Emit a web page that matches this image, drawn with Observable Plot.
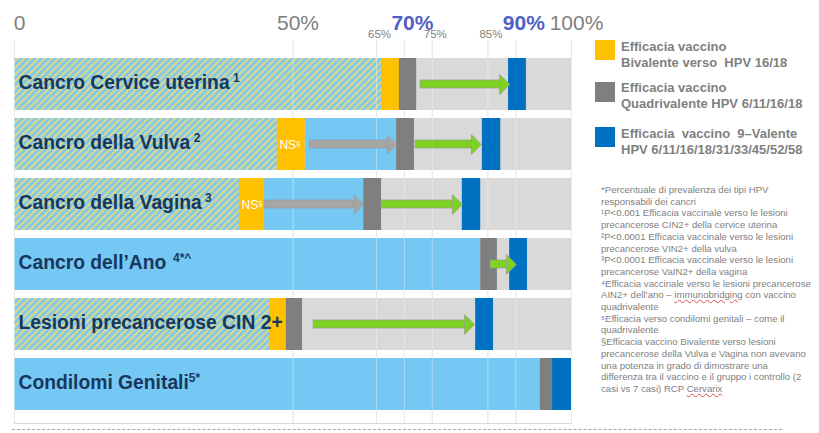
<!DOCTYPE html>
<html><head><meta charset="utf-8">
<script src="https://cdn.jsdelivr.net/npm/d3@7"></script>
<script src="https://cdn.jsdelivr.net/npm/@observablehq/plot@0.6"></script>
<style>
body{margin:0;background:#fff;font-family:"Liberation Sans",Arial,sans-serif;}
#wrap{position:relative;width:819px;height:433px;overflow:hidden;background:#fff;}
#chart{position:absolute;left:0;top:0;}
.sw{position:absolute;left:595px;width:20px;height:20px;}
.leg{position:absolute;left:621px;font-weight:bold;font-size:13px;color:#7f7f7f;line-height:15.5px;white-space:nowrap;}
#notes{position:absolute;left:601px;top:184px;font-size:9.6px;line-height:11.7px;color:#7f7f7f;letter-spacing:0px;white-space:nowrap;}
.sq{text-decoration:underline wavy #e05050;text-decoration-thickness:1px;}
#dash{position:absolute;left:12px;top:429px;width:770px;border-top:1px dashed #a6a6a6;}
</style></head>
<body><div id="wrap"><div id="chart"></div>
<div class="sw" style="top:40px;background:#ffc000"></div>
<div class="leg" style="top:39px">Efficacia vaccino<br>Bivalente verso&nbsp; HPV 16/18</div>
<div class="sw" style="top:82px;background:#7f7f7f"></div>
<div class="leg" style="top:80px">Efficacia vaccino<br>Quadrivalente HPV 6/11/16/18</div>
<div class="sw" style="top:127px;background:#0070c0"></div>
<div class="leg" style="top:126px">Efficacia&nbsp; vaccino&nbsp; 9–Valente<br>HPV 6/11/16/18/31/33/45/52/58</div>
<div id="notes">*Percentuale di prevalenza dei tipi HPV<br>responsabili dei cancri<br>¹P&lt;0.001 Efficacia vaccinale verso le lesioni<br>precancerose CIN2+ della cervice uterina<br>²P&lt;0.0001 Efficacia vaccinale verso le lesioni<br>precancerose VIN2+ della vulva<br>³P&lt;0.0001 Efficacia vaccinale verso le lesioni<br>precancerose VaIN2+ della vagina<br>⁴Efficacia vaccinale verso le lesioni precancerose<br>AIN2+ dell’ano – <span class="sq">immunobridging</span> con vaccino<br>quadrivalente<br>⁵Efficacia verso condilomi genitali – come il<br>quadrivalente<br>§Efficacia vaccino Bivalente verso lesioni<br>precancerose della Vulva e Vagina non avevano<br>una potenza in grado di dimostrare una<br>differenza tra il vaccino e il gruppo i controllo (2<br>casi vs 7 casi) RCP <span class="sq">Cervarix</span></div>
<div id="dash"></div>
</div>
<script>
const rows = ["Cancro Cervice uterina","Cancro della Vulva","Cancro della Vagina","Cancro dell’Ano","Lesioni precancerose CIN 2+","Condilomi Genitali"];
const rowSup = [" 1"," 2"," 3","  4*^","","5*"];
const hatched = [true,true,true,false,true,false];
const prevalence = [65.9,47.2,40.4,83.7,45.8,94.4];
const bivalentEnd = [69.1,52.2,44.9,null,48.8,null];
const quadStart = [69.1,68.6,62.7,83.7,48.8,94.4];
const quadEnd = [72.2,71.8,65.9,86.7,51.7,96.6];
const nineStart = [88.7,84.0,80.4,88.9,82.8,96.6];
const nineEnd = [91.9,87.3,83.7,92.1,86.0,100];
const nsRows = [false,true,true,false,false,false];
const greyArrowFrom = [null,53.0,44.9,null,null,null];
const greyArrowTo = [null,68.6,62.7,null,null,null];
const greenArrowFrom = [72.9,72.0,65.9,85.5,53.7,null];
const greenArrowTo = [88.9,83.8,80.4,90.1,82.6,null];
const majorTicks = [0,50,100], majorLabels = ["0","50%","100%"];
const keyTicks = [70,90], keyLabels = ["70%","90%"];
const minorTicks = [65,75,85], minorLabels = ["65%","75%","85%"];
const gridTicks = [0,50,65,70,75,85,90,100];

const table = rows.map((row,i)=>({row, sup:rowSup[i], hatched:hatched[i], prev:prevalence[i],
  biv:bivalentEnd[i], q0:quadStart[i], q1:quadEnd[i], n0:nineStart[i], n1:nineEnd[i], ns:nsRows[i],
  ga0:greyArrowFrom[i], ga1:greyArrowTo[i], gr0:greenArrowFrom[i], gr1:greenArrowTo[i]}));

const head = {draw(ctx, size){ const r = Math.sqrt(size/Math.PI); ctx.moveTo(0,0); ctx.lineTo(-r,-r); ctx.lineTo(-r,r); ctx.closePath(); }};
const GREEN = "#7ed321", GREYA = "#a6a6a6", LB = "#75c8f3";
const shaftInset = 22;

const plot = Plot.plot({
  width: 612, height: 433, marginLeft: 14, marginRight: 41, marginTop: 40, marginBottom: 10,
  style: {fontFamily: "Liberation Sans, Arial, sans-serif", background: "transparent"},
  x: {domain: [0,100], axis: null},
  y: {domain: rows, axis: null, paddingInner: 0.13, paddingOuter: 0.205, align: 0.6},
  marks: [
    Plot.ruleX(gridTicks, {x: d=>d, stroke: "#d9d9d9", strokeWidth: 1}),
    Plot.frame({anchor: "bottom", stroke: "#d9d9d9"}),
    Plot.barX(table, {y: "row", x1: d=>0, x2: d=>100, fill: "#d9d9d9"}),
    Plot.barX(table.filter(d=>d.hatched), {y: "row", x1: d=>0, x2: "prev", fill: "url(#hatch)"}),
    Plot.barX(table.filter(d=>!d.hatched), {y: "row", x1: d=>0, x2: "prev", fill: LB}),
    Plot.barX(table.filter(d=>d.biv!=null && d.q0 > d.biv), {y: "row", x1: "biv", x2: "q0", fill: LB}),
    Plot.ruleX(gridTicks, {x: d=>d, stroke: "#ffffff", strokeOpacity: 0.4, strokeWidth: 1}),
    Plot.barX(table.filter(d=>d.biv!=null), {y: "row", x1: "prev", x2: "biv", fill: "#ffc000"}),
    Plot.barX(table, {y: "row", x1: "q0", x2: "q1", fill: "#7f7f7f"}),
    Plot.barX(table, {y: "row", x1: "n0", x2: "n1", fill: "#0070c0"}),
    Plot.barX(table.filter(d=>d.ga0!=null), {y: "row", x1: "ga0", x2: "ga1", insetTop: shaftInset, insetBottom: shaftInset, insetRight: 9, fill: GREYA, stroke: "#9a9a9a", strokeWidth: 0.6}),
    Plot.dot(table.filter(d=>d.ga0!=null), {y: "row", x: "ga1", symbol: head, r: 9.5, fill: GREYA, stroke: "#999", strokeWidth: 0.6}),
    Plot.barX(table.filter(d=>d.gr0!=null), {y: "row", x1: "gr0", x2: "gr1", insetTop: shaftInset, insetBottom: shaftInset, insetRight: 9, fill: GREEN, stroke: "#9aa08f", strokeWidth: 0.8}),
    Plot.dot(table.filter(d=>d.gr0!=null), {y: "row", x: "gr1", symbol: head, r: 10, fill: GREEN, stroke: "#9aa08f", strokeWidth: 0.8}),
    Plot.text(table.filter(d=>d.ns), {y: "row", x: "prev", text: d=>"NS", textAnchor: "start", dx: 2, dy: 1, fill: "#fff", fontSize: 12}),
    Plot.text(table, {y: "row", x: d=>0, text: "row", textAnchor: "start", dx: 4, dy: -2, fill: "#17375e", fontSize: 19.3, fontWeight: "bold"}),
    Plot.text(majorTicks, {x: d=>d, text: (d,i)=>majorLabels[i], frameAnchor: "top", dy: -25, dx: 5, fontSize: 21, fill: "#7f7f7f"}),
    Plot.text(keyTicks, {x: d=>d, text: (d,i)=>keyLabels[i], frameAnchor: "top", dy: -25, dx: 8, fontSize: 21, fontWeight: "bold", fill: "#4f5fc4"}),
    Plot.text(minorTicks, {x: d=>d, text: (d,i)=>minorLabels[i], frameAnchor: "top", dy: -11, dx: 3, fontSize: 11.5, fill: "#7f7f7f"})
  ]
});
document.getElementById("chart").appendChild(plot);
const svg = d3.select(plot);
svg.insert("defs", ":first-child").html(
  '<pattern id="hatch" patternUnits="userSpaceOnUse" width="4.8" height="4.8" patternTransform="rotate(45)">' +
  '<rect width="4.8" height="4.8" fill="#7fc8ec"/><rect width="2.1" height="4.8" fill="#dcd88a"/></pattern>');
svg.selectAll("text").each(function(){
  const t = this.textContent;
  const i = rows.indexOf(t);
  if (i >= 0 && rowSup[i]) {
    d3.select(this).append("tspan").attr("font-size", 12).attr("font-weight", "bold").attr("dy", -7).text(rowSup[i]);
  } else if (t === "NS") {
    d3.select(this).append("tspan").attr("font-size", 8).attr("dy", -3).text("§");
  }
});
</script></body></html>
